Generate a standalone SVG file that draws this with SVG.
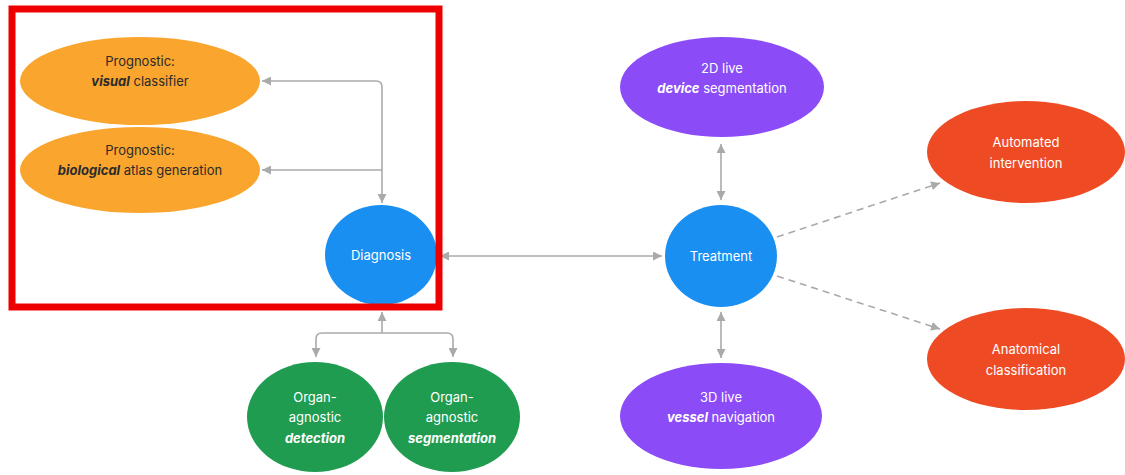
<svg xmlns="http://www.w3.org/2000/svg" width="1125" height="475" viewBox="0 0 1125 475">
<style>
text{font-family:Inter,"Liberation Sans",Arial,sans-serif;font-size:13px;text-anchor:middle}
.dk{fill:#2b2b2b}
.wt{fill:#ffffff}
.em{font-weight:700;font-style:italic}
.c{fill:none;stroke:#aaaaaa;stroke-width:1.6}
.d{stroke-dasharray:7 5}
</style>
<defs>
<marker id="ah" viewBox="0 0 10 10" refX="10" refY="5" markerWidth="9" markerHeight="9" markerUnits="userSpaceOnUse" orient="auto-start-reverse">
<path d="M0,0 L10,5 L0,10 z" fill="#aaaaaa"/>
</marker>
</defs>
<rect width="1125" height="475" fill="#ffffff"/>
<g id="connectors">
<path class="c" d="M262 81 H376 Q382 81 382 87 V203" marker-start="url(#ah)" marker-end="url(#ah)"/>
<path class="c" d="M262 170 H382" marker-start="url(#ah)"/>
<path class="c" d="M382 312 V333" marker-start="url(#ah)"/>
<path class="c" d="M316 357 V339 Q316 333 322 333 H447 Q453 333 453 339 V357" marker-start="url(#ah)" marker-end="url(#ah)"/>
<path class="c" d="M440 256 H662" marker-start="url(#ah)" marker-end="url(#ah)"/>
<path class="c" d="M721 144 V200" marker-start="url(#ah)" marker-end="url(#ah)"/>
<path class="c" d="M721 312 V358" marker-start="url(#ah)" marker-end="url(#ah)"/>
<path class="c d" d="M777 237 L940 183" marker-end="url(#ah)"/>
<path class="c d" d="M777 276 L940 329" marker-end="url(#ah)"/>
</g>
<g id="prognostic-visual">
<ellipse cx="140" cy="81" rx="120" ry="44" fill="#f9a52e"/>
<text class="dk" x="140" y="66">Prognostic:</text>
<text class="dk" x="140" y="86"><tspan class="em">visual</tspan> classifier</text>
</g>
<g id="prognostic-biological">
<ellipse cx="140" cy="170" rx="120" ry="43" fill="#f9a52e"/>
<text class="dk" x="140" y="155">Prognostic:</text>
<text class="dk" x="140" y="175"><tspan class="em">biological</tspan> atlas generation</text>
</g>
<g id="diagnosis">
<ellipse cx="381" cy="255" rx="56" ry="50" fill="#1a8ff2"/>
<text class="wt" x="381" y="260">Diagnosis</text>
</g>
<g id="organ-detection">
<ellipse cx="315" cy="417" rx="68" ry="55" fill="#1f9c50"/>
<text class="wt" x="315" y="402">Organ-</text>
<text class="wt" x="315" y="422">agnostic</text>
<text class="wt em" x="315" y="443">detection</text>
</g>
<g id="organ-segmentation">
<ellipse cx="452" cy="417" rx="68" ry="55" fill="#1f9c50"/>
<text class="wt" x="452" y="402">Organ-</text>
<text class="wt" x="452" y="422">agnostic</text>
<text class="wt em" x="452" y="443">segmentation</text>
</g>
<g id="treatment">
<ellipse cx="721" cy="256" rx="56" ry="51" fill="#1a8ff2"/>
<text class="wt" x="721" y="261">Treatment</text>
</g>
<g id="device-segmentation">
<ellipse cx="722" cy="87" rx="102" ry="50" fill="#8b4cf7"/>
<text class="wt" x="722" y="73">2D live</text>
<text class="wt" x="722" y="93"><tspan class="em">device</tspan> segmentation</text>
</g>
<g id="vessel-navigation">
<ellipse cx="721" cy="416" rx="101" ry="53" fill="#8b4cf7"/>
<text class="wt" x="721" y="402">3D live</text>
<text class="wt" x="721" y="422"><tspan class="em">vessel</tspan> navigation</text>
</g>
<g id="automated-intervention">
<ellipse cx="1026" cy="152" rx="99" ry="51" fill="#ee4b25"/>
<text class="wt" x="1026" y="147">Automated</text>
<text class="wt" x="1026" y="168">intervention</text>
</g>
<g id="anatomical-classification">
<ellipse cx="1026" cy="359" rx="99" ry="51" fill="#ee4b25"/>
<text class="wt" x="1026" y="354">Anatomical</text>
<text class="wt" x="1026" y="375">classification</text>
</g>
<rect x="12" y="9" width="427" height="298" fill="none" stroke="#ee0000" stroke-width="7"/>
</svg>
